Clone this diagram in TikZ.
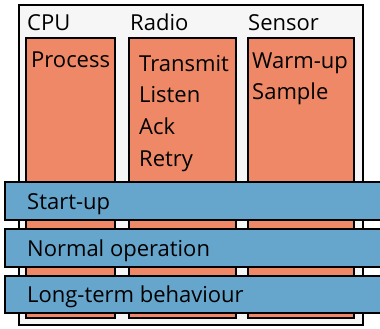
\documentclass[tikz,border=0pt]{standalone}
\usepackage{fontspec}
\setmainfont{Open Sans}
\definecolor{outerfill}{HTML}{F6F6F6}
\definecolor{orangefill}{HTML}{EE8866}
\definecolor{bluefill}{HTML}{66A6CC}
\begin{document}
\begin{tikzpicture}[x=1pt,y=1pt,
  outer/.style={draw=black,line width=1.3pt,fill=outerfill},
  column/.style={draw=black,line width=1.3pt,fill=orangefill},
  band/.style={draw=black,line width=1.3pt,fill=bluefill},
  lbl/.style={anchor=base west,inner sep=0pt,font=\fontsize{22}{22}\selectfont}]
\useasboundingbox (0,0) rectangle (380,329);
\begin{scope}
\clip (0,0) rectangle (380,329);
\draw[outer] (19,4) rectangle (363,324);
\draw[column] (26,11) rectangle (115,291);
\draw[column] (129,11) rectangle (236,291);
\draw[column] (248,11) rectangle (354,291);
\node[lbl] (cpu) at (27,298) {CPU};
\node[lbl] (radio) at (130,298) {Radio};
\node[lbl] (sensor) at (248,298) {Sensor};
\node[lbl] (process) at (31,261) {Process};
\node[lbl] (transmit) at (139,257) {Transmit};
\node[lbl] (listen) at (139,226) {Listen};
\node[lbl] (ack) at (139,194) {Ack};
\node[lbl] (retry) at (139,162) {Retry};
\node[lbl] (warm) at (252,260) {Warm-up};
\node[lbl] (sample) at (252,229) {Sample};
\draw[band] (5,109) rectangle (390,147);
\draw[band] (5,62) rectangle (390,100);
\draw[band] (5,16) rectangle (390,53);
\node[lbl] (startup) at (27,119) {Start-up};
\node[lbl] (normal) at (27,72) {Normal operation};
\node[lbl] (longterm) at (27,26) {Long-term behaviour};
\end{scope}
\end{tikzpicture}
\end{document}
